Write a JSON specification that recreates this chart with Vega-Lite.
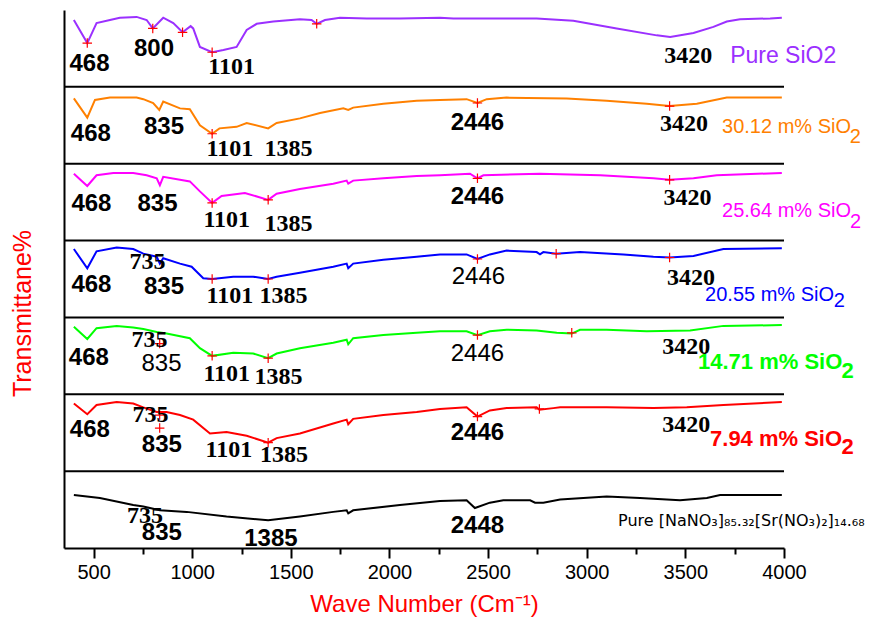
{
  "$schema": "https://vega.github.io/schema/vega-lite/v6.json",
  "width": 720,
  "height": 538,
  "autosize": {"type": "none"},
  "padding": {"left": 64, "top": 10, "right": 95, "bottom": 82},
  "background": "white",
  "config": {
    "view": {"stroke": null},
    "axisY": {"labels": false, "ticks": false, "grid": false, "domainColor": "black", "domainWidth": 2, "titleColor": "#ff0000", "titleFont": "Liberation Sans", "titleFontSize": 25, "titleFontWeight": "normal", "titleX": -42, "titleY": 303, "titleAngle": 270, "titleAlign": "center", "titleBaseline": "middle"},
    "axisX": {"grid": false, "domainColor": "black", "domainWidth": 2, "tickColor": "black", "tickWidth": 2, "labelFont": "Liberation Sans", "labelFontSize": 20, "labelColor": "black", "titleColor": "#ff0000", "titleFont": "Liberation Sans", "titleFontSize": 24, "titleFontWeight": "normal"}
  },
  "resolve": {"axis": {"x": "independent"}},
  "datasets": {
    "spectra": [
      {"s":"Pure SiO2","wn":400,"v":687},{"s":"Pure SiO2","wn":468,"v":657},{"s":"Pure SiO2","wn":515,"v":683},{"s":"Pure SiO2","wn":583,"v":687},{"s":"Pure SiO2","wn":633,"v":690},{"s":"Pure SiO2","wn":718,"v":691},{"s":"Pure SiO2","wn":769,"v":687},{"s":"Pure SiO2","wn":800,"v":676},{"s":"Pure SiO2","wn":853,"v":690},{"s":"Pure SiO2","wn":904,"v":683},{"s":"Pure SiO2","wn":951,"v":671},{"s":"Pure SiO2","wn":992,"v":679},{"s":"Pure SiO2","wn":1005,"v":676},{"s":"Pure SiO2","wn":1039,"v":652},{"s":"Pure SiO2","wn":1101,"v":645},{"s":"Pure SiO2","wn":1158,"v":648},{"s":"Pure SiO2","wn":1225,"v":652},{"s":"Pure SiO2","wn":1276,"v":674},{"s":"Pure SiO2","wn":1327,"v":682},{"s":"Pure SiO2","wn":1411,"v":685},{"s":"Pure SiO2","wn":1546,"v":688},{"s":"Pure SiO2","wn":1605,"v":687},{"s":"Pure SiO2","wn":1631,"v":682},{"s":"Pure SiO2","wn":1673,"v":687},{"s":"Pure SiO2","wn":1749,"v":690},{"s":"Pure SiO2","wn":1885,"v":689},{"s":"Pure SiO2","wn":2053,"v":689},{"s":"Pure SiO2","wn":2256,"v":690},{"s":"Pure SiO2","wn":2324,"v":689},{"s":"Pure SiO2","wn":2746,"v":689},{"s":"Pure SiO2","wn":2932,"v":686},{"s":"Pure SiO2","wn":3152,"v":676},{"s":"Pure SiO2","wn":3355,"v":667},{"s":"Pure SiO2","wn":3423,"v":665},{"s":"Pure SiO2","wn":3541,"v":670},{"s":"Pure SiO2","wn":3642,"v":678},{"s":"Pure SiO2","wn":3710,"v":685},{"s":"Pure SiO2","wn":3777,"v":688},{"s":"Pure SiO2","wn":3930,"v":689},{"s":"Pure SiO2","wn":3989,"v":690},
      {"s":"30.12","wn":400,"v":585},{"s":"30.12","wn":468,"v":560},{"s":"30.12","wn":507,"v":583},{"s":"30.12","wn":583,"v":586},{"s":"30.12","wn":718,"v":586},{"s":"30.12","wn":752,"v":584},{"s":"30.12","wn":802,"v":579},{"s":"30.12","wn":833,"v":570},{"s":"30.12","wn":853,"v":581},{"s":"30.12","wn":938,"v":572},{"s":"30.12","wn":988,"v":571},{"s":"30.12","wn":1039,"v":550},{"s":"30.12","wn":1101,"v":539},{"s":"30.12","wn":1138,"v":546},{"s":"30.12","wn":1225,"v":548},{"s":"30.12","wn":1276,"v":553},{"s":"30.12","wn":1385,"v":546},{"s":"30.12","wn":1428,"v":553},{"s":"30.12","wn":1546,"v":559},{"s":"30.12","wn":1648,"v":566},{"s":"30.12","wn":1766,"v":572},{"s":"30.12","wn":1791,"v":570},{"s":"30.12","wn":1816,"v":573},{"s":"30.12","wn":1969,"v":578},{"s":"30.12","wn":2138,"v":582},{"s":"30.12","wn":2256,"v":583},{"s":"30.12","wn":2391,"v":584},{"s":"30.12","wn":2446,"v":579},{"s":"30.12","wn":2493,"v":584},{"s":"30.12","wn":2594,"v":586},{"s":"30.12","wn":2898,"v":585},{"s":"30.12","wn":3101,"v":582},{"s":"30.12","wn":3304,"v":578},{"s":"30.12","wn":3420,"v":575},{"s":"30.12","wn":3558,"v":578},{"s":"30.12","wn":3710,"v":586},{"s":"30.12","wn":3989,"v":586},
      {"s":"25.64","wn":400,"v":487},{"s":"25.64","wn":468,"v":471},{"s":"25.64","wn":515,"v":485},{"s":"25.64","wn":600,"v":488},{"s":"25.64","wn":701,"v":488},{"s":"25.64","wn":769,"v":485},{"s":"25.64","wn":820,"v":481},{"s":"25.64","wn":836,"v":472},{"s":"25.64","wn":853,"v":483},{"s":"25.64","wn":988,"v":477},{"s":"25.64","wn":1039,"v":464},{"s":"25.64","wn":1101,"v":449},{"s":"25.64","wn":1149,"v":458},{"s":"25.64","wn":1267,"v":462},{"s":"25.64","wn":1385,"v":453},{"s":"25.64","wn":1428,"v":461},{"s":"25.64","wn":1546,"v":467},{"s":"25.64","wn":1715,"v":474},{"s":"25.64","wn":1783,"v":478},{"s":"25.64","wn":1791,"v":474},{"s":"25.64","wn":1816,"v":478},{"s":"25.64","wn":1969,"v":481},{"s":"25.64","wn":2138,"v":484},{"s":"25.64","wn":2256,"v":485},{"s":"25.64","wn":2408,"v":487},{"s":"25.64","wn":2446,"v":481},{"s":"25.64","wn":2476,"v":485},{"s":"25.64","wn":2763,"v":487},{"s":"25.64","wn":3068,"v":485},{"s":"25.64","wn":3338,"v":481},{"s":"25.64","wn":3420,"v":479},{"s":"25.64","wn":3541,"v":481},{"s":"25.64","wn":3659,"v":485},{"s":"25.64","wn":3989,"v":488},
      {"s":"20.55","wn":400,"v":389},{"s":"20.55","wn":468,"v":364},{"s":"20.55","wn":515,"v":386},{"s":"20.55","wn":617,"v":391},{"s":"20.55","wn":701,"v":389},{"s":"20.55","wn":752,"v":383},{"s":"20.55","wn":820,"v":379},{"s":"20.55","wn":836,"v":370},{"s":"20.55","wn":853,"v":377},{"s":"20.55","wn":938,"v":370},{"s":"20.55","wn":997,"v":366},{"s":"20.55","wn":1056,"v":351},{"s":"20.55","wn":1101,"v":350},{"s":"20.55","wn":1208,"v":353},{"s":"20.55","wn":1309,"v":353},{"s":"20.55","wn":1385,"v":350},{"s":"20.55","wn":1428,"v":353},{"s":"20.55","wn":1546,"v":358},{"s":"20.55","wn":1715,"v":366},{"s":"20.55","wn":1783,"v":370},{"s":"20.55","wn":1791,"v":364},{"s":"20.55","wn":1816,"v":370},{"s":"20.55","wn":1969,"v":375},{"s":"20.55","wn":2138,"v":379},{"s":"20.55","wn":2256,"v":382},{"s":"20.55","wn":2391,"v":382},{"s":"20.55","wn":2446,"v":376},{"s":"20.55","wn":2509,"v":382},{"s":"20.55","wn":2594,"v":387},{"s":"20.55","wn":2746,"v":385},{"s":"20.55","wn":2763,"v":382},{"s":"20.55","wn":2780,"v":385},{"s":"20.55","wn":2845,"v":383},{"s":"20.55","wn":2966,"v":385},{"s":"20.55","wn":3186,"v":382},{"s":"20.55","wn":3338,"v":379},{"s":"20.55","wn":3420,"v":378},{"s":"20.55","wn":3541,"v":380},{"s":"20.55","wn":3693,"v":389},{"s":"20.55","wn":3989,"v":390},
      {"s":"14.71","wn":400,"v":288},{"s":"14.71","wn":468,"v":272},{"s":"14.71","wn":515,"v":286},{"s":"14.71","wn":617,"v":289},{"s":"14.71","wn":701,"v":287},{"s":"14.71","wn":752,"v":285},{"s":"14.71","wn":820,"v":281},{"s":"14.71","wn":870,"v":279},{"s":"14.71","wn":988,"v":273},{"s":"14.71","wn":1039,"v":260},{"s":"14.71","wn":1101,"v":250},{"s":"14.71","wn":1208,"v":254},{"s":"14.71","wn":1309,"v":253},{"s":"14.71","wn":1385,"v":247},{"s":"14.71","wn":1428,"v":253},{"s":"14.71","wn":1546,"v":260},{"s":"14.71","wn":1715,"v":267},{"s":"14.71","wn":1783,"v":271},{"s":"14.71","wn":1791,"v":265},{"s":"14.71","wn":1816,"v":273},{"s":"14.71","wn":1969,"v":277},{"s":"14.71","wn":2138,"v":280},{"s":"14.71","wn":2256,"v":282},{"s":"14.71","wn":2391,"v":282},{"s":"14.71","wn":2446,"v":277},{"s":"14.71","wn":2509,"v":282},{"s":"14.71","wn":2594,"v":284},{"s":"14.71","wn":2746,"v":283},{"s":"14.71","wn":2848,"v":280},{"s":"14.71","wn":2924,"v":279},{"s":"14.71","wn":2966,"v":284},{"s":"14.71","wn":3101,"v":284},{"s":"14.71","wn":3304,"v":282},{"s":"14.71","wn":3524,"v":283},{"s":"14.71","wn":3693,"v":289},{"s":"14.71","wn":3989,"v":290},
      {"s":"7.94","wn":400,"v":188},{"s":"7.94","wn":468,"v":174},{"s":"7.94","wn":515,"v":186},{"s":"7.94","wn":617,"v":190},{"s":"7.94","wn":701,"v":188},{"s":"7.94","wn":752,"v":183},{"s":"7.94","wn":820,"v":177},{"s":"7.94","wn":870,"v":177},{"s":"7.94","wn":938,"v":173},{"s":"7.94","wn":1005,"v":167},{"s":"7.94","wn":1090,"v":149},{"s":"7.94","wn":1174,"v":151},{"s":"7.94","wn":1276,"v":146},{"s":"7.94","wn":1385,"v":137},{"s":"7.94","wn":1428,"v":143},{"s":"7.94","wn":1546,"v":149},{"s":"7.94","wn":1715,"v":162},{"s":"7.94","wn":1783,"v":167},{"s":"7.94","wn":1791,"v":161},{"s":"7.94","wn":1816,"v":168},{"s":"7.94","wn":1969,"v":173},{"s":"7.94","wn":2138,"v":177},{"s":"7.94","wn":2256,"v":181},{"s":"7.94","wn":2391,"v":183},{"s":"7.94","wn":2446,"v":171},{"s":"7.94","wn":2509,"v":179},{"s":"7.94","wn":2594,"v":182},{"s":"7.94","wn":2746,"v":183},{"s":"7.94","wn":2760,"v":180},{"s":"7.94","wn":2831,"v":182},{"s":"7.94","wn":2865,"v":183},{"s":"7.94","wn":3101,"v":183},{"s":"7.94","wn":3338,"v":182},{"s":"7.94","wn":3507,"v":183},{"s":"7.94","wn":3693,"v":186},{"s":"7.94","wn":3989,"v":190},
      {"s":"Salt","wn":400,"v":69},{"s":"Salt","wn":532,"v":65},{"s":"Salt","wn":701,"v":56},{"s":"Salt","wn":752,"v":54},{"s":"Salt","wn":836,"v":49},{"s":"Salt","wn":972,"v":47},{"s":"Salt","wn":1174,"v":41},{"s":"Salt","wn":1385,"v":36},{"s":"Salt","wn":1546,"v":41},{"s":"Salt","wn":1715,"v":47},{"s":"Salt","wn":1783,"v":49},{"s":"Salt","wn":1791,"v":45},{"s":"Salt","wn":1816,"v":49},{"s":"Salt","wn":2053,"v":56},{"s":"Salt","wn":2256,"v":61},{"s":"Salt","wn":2391,"v":62},{"s":"Salt","wn":2433,"v":52},{"s":"Salt","wn":2509,"v":59},{"s":"Salt","wn":2577,"v":62},{"s":"Salt","wn":2713,"v":62},{"s":"Salt","wn":2738,"v":59},{"s":"Salt","wn":2780,"v":59},{"s":"Salt","wn":2865,"v":63},{"s":"Salt","wn":3101,"v":67},{"s":"Salt","wn":3270,"v":65},{"s":"Salt","wn":3473,"v":62},{"s":"Salt","wn":3609,"v":65},{"s":"Salt","wn":3676,"v":69},{"s":"Salt","wn":3989,"v":69}
    ],
    "separators": [{"v":100},{"v":200},{"v":300},{"v":400},{"v":500},{"v":600}],
    "crosses": [
      {"wn":468,"v":657},{"wn":800,"v":676},{"wn":951,"v":671},{"wn":1101,"v":645},{"wn":1631,"v":682},
      {"wn":1101,"v":539},{"wn":2446,"v":579},{"wn":3420,"v":575},
      {"wn":1101,"v":449},{"wn":1385,"v":453},{"wn":2446,"v":481},{"wn":3420,"v":479},
      {"wn":1101,"v":350},{"wn":1385,"v":350},{"wn":2446,"v":376},{"wn":2845,"v":383},{"wn":3420,"v":378},
      {"wn":835,"v":266},{"wn":1101,"v":250},{"wn":1385,"v":247},{"wn":2446,"v":277},{"wn":2924,"v":280},
      {"wn":835,"v":173},{"wn":835,"v":156},{"wn":1385,"v":137},{"wn":2446,"v":171},{"wn":2760,"v":181}
    ],
    "peaksBoldSans": [
      {"t":"468","wn":479,"v":630},{"t":"800","wn":806,"v":649},
      {"t":"468","wn":486,"v":539},{"t":"835","wn":857,"v":548},{"t":"2446","wn":2446,"v":553},
      {"t":"468","wn":489,"v":448},{"t":"835","wn":824,"v":448},{"t":"2446","wn":2446,"v":457},
      {"t":"468","wn":489,"v":342},{"t":"835","wn":857,"v":340},
      {"t":"468","wn":476,"v":247},
      {"t":"468","wn":481,"v":154},{"t":"835","wn":846,"v":134},{"t":"2446","wn":2446,"v":149},
      {"t":"835","wn":846,"v":19},{"t":"1385","wn":1399,"v":12},{"t":"2448","wn":2446,"v":28}
    ],
    "peaksSans": [
      {"t":"2446","wn":2451,"v":353},
      {"t":"835","wn":844,"v":240},{"t":"2446","wn":2446,"v":253}
    ],
    "peaksSerif": [
      {"t":"1101","wn":1200,"v":626},{"t":"3420","wn":3514,"v":640},
      {"t":"1101","wn":1191,"v":519},{"t":"1385","wn":1488,"v":519},{"t":"3420","wn":3493,"v":552},
      {"t":"1101","wn":1175,"v":427},{"t":"1385","wn":1488,"v":422},{"t":"3420","wn":3511,"v":455},
      {"t":"735","wn":773,"v":372},{"t":"1101","wn":1191,"v":328},{"t":"1385","wn":1463,"v":328},{"t":"3420","wn":3529,"v":351},
      {"t":"735","wn":783,"v":271},{"t":"1101","wn":1175,"v":227},{"t":"1385","wn":1437,"v":223},{"t":"3420","wn":3504,"v":262},
      {"t":"735","wn":788,"v":173},{"t":"1101","wn":1186,"v":128},{"t":"1385","wn":1465,"v":121},{"t":"3420","wn":3504,"v":160},
      {"t":"735","wn":760,"v":42}
    ],
    "names": [
      {"s":"Pure SiO2","t":"Pure SiO2","wn":3727,"v":640},
      {"s":"30.12","t":"30.12 m% SiO","wn":3686,"v":548},{"s":"30.12","t":"2","wn":4333,"v":535},
      {"s":"25.64","t":"25.64 m% SiO","wn":3686,"v":438},{"s":"25.64","t":"2","wn":4335,"v":424},
      {"s":"20.55","t":"20.55 m%  SiO","wn":3600,"v":329},{"s":"20.55","t":"2","wn":4252,"v":321},
      {"s":"14.71","t":"14.71 m% SiO","wn":3564,"v":242},{"s":"14.71","t":"2","wn":4292,"v":230},
      {"s":"7.94","t":"7.94 m% SiO","wn":3625,"v":142},{"s":"7.94","t":"2","wn":4292,"v":131},
      {"s":"Salt","t":"Pure [NaNO₃]₈₅.₃₂[Sr(NO₃)₂]₁₄.₆₈","wn":3159,"v":35}
    ]
  },
  "layer": [
    {
      "data": {"name": "separators"},
      "mark": {"type": "rule", "color": "black", "strokeWidth": 2},
      "encoding": {
        "y": {"field": "v", "type": "quantitative", "title": "Transmittane%", "scale": {"domain": [0, 700], "nice": false}}
      }
    },
    {
      "data": {"name": "spectra"},
      "mark": {"type": "line", "strokeWidth": 2, "interpolate": "linear"},
      "encoding": {
        "x": {"field": "wn", "type": "quantitative", "title": "Wave Number (Cm⁻¹)", "scale": {"domain": [350, 4000], "nice": false, "zero": false},
              "axis": {"orient": "bottom", "values": [500,1000,1500,2000,2500,3000,3500,4000], "format": "d", "tickSize": 10, "labelPadding": 4, "titlePadding": 10, "labelFlush": false}},
        "y": {"field": "v", "type": "quantitative", "title": "Transmittane%", "scale": {"domain": [0, 700], "nice": false}},
        "color": {"field": "s", "type": "nominal", "legend": null,
                  "scale": {"domain": ["Pure SiO2","30.12","25.64","20.55","14.71","7.94","Salt"], "range": ["#9b30ff","#ff8000","#ff00ff","#0000ff","#00ff00","#ff0000","#000000"]}},
        "detail": {"field": "s"}
      }
    },
    {
      "data": {"name": "crosses"},
      "mark": {"type": "point", "shape": "M -1 0 L 1 0 M 0 -1 L 0 1", "filled": false, "color": "#ff0000", "strokeWidth": 1.2, "size": 90, "opacity": 1},
      "encoding": {
        "x": {"field": "wn", "type": "quantitative", "title": null, "scale": {"domain": [350, 4000], "nice": false, "zero": false},
              "axis": {"orient": "bottom", "values": [750,1250,1750,2250,2750,3250,3750], "tickSize": 6, "labels": false, "domain": false, "title": null}},
        "y": {"field": "v", "type": "quantitative", "title": "Transmittane%", "scale": {"domain": [0, 700], "nice": false}}
      }
    },
    {
      "data": {"name": "peaksBoldSans"},
      "mark": {"type": "text", "font": "Liberation Sans", "fontWeight": "bold", "fontSize": 24, "align": "center", "baseline": "middle", "color": "black"},
      "encoding": {
        "x": {"field": "wn", "type": "quantitative", "axis": null, "scale": {"domain": [350, 4000], "nice": false, "zero": false}},
        "y": {"field": "v", "type": "quantitative", "title": "Transmittane%", "scale": {"domain": [0, 700], "nice": false}},
        "text": {"field": "t"}
      }
    },
    {
      "data": {"name": "peaksSans"},
      "mark": {"type": "text", "font": "Liberation Sans", "fontWeight": "normal", "fontSize": 24, "align": "center", "baseline": "middle", "color": "black"},
      "encoding": {
        "x": {"field": "wn", "type": "quantitative", "axis": null, "scale": {"domain": [350, 4000], "nice": false, "zero": false}},
        "y": {"field": "v", "type": "quantitative", "title": "Transmittane%", "scale": {"domain": [0, 700], "nice": false}},
        "text": {"field": "t"}
      }
    },
    {
      "data": {"name": "peaksSerif"},
      "mark": {"type": "text", "font": "Liberation Serif", "fontWeight": "bold", "fontSize": 24, "align": "center", "baseline": "middle", "color": "black"},
      "encoding": {
        "x": {"field": "wn", "type": "quantitative", "axis": null, "scale": {"domain": [350, 4000], "nice": false, "zero": false}},
        "y": {"field": "v", "type": "quantitative", "title": "Transmittane%", "scale": {"domain": [0, 700], "nice": false}},
        "text": {"field": "t"}
      }
    },
    {
      "data": {"name": "names"},
      "transform": [{"filter": {"field": "s", "equal": "Pure SiO2"}}],
      "mark": {"type": "text", "font": "Liberation Sans", "fontSize": 23, "align": "left", "baseline": "middle"},
      "encoding": {
        "x": {"field": "wn", "type": "quantitative", "axis": null, "scale": {"domain": [350, 4000], "nice": false, "zero": false}},
        "y": {"field": "v", "type": "quantitative", "title": "Transmittane%", "scale": {"domain": [0, 700], "nice": false}},
        "text": {"field": "t"},
        "color": {"field": "s", "type": "nominal", "legend": null}
      }
    },
    {
      "data": {"name": "names"},
      "transform": [{"filter": {"field": "s", "oneOf": ["30.12", "25.64", "20.55"]}}],
      "mark": {"type": "text", "font": "Liberation Sans", "fontSize": 20, "align": "left", "baseline": "middle"},
      "encoding": {
        "x": {"field": "wn", "type": "quantitative", "axis": null, "scale": {"domain": [350, 4000], "nice": false, "zero": false}},
        "y": {"field": "v", "type": "quantitative", "title": "Transmittane%", "scale": {"domain": [0, 700], "nice": false}},
        "text": {"field": "t"},
        "color": {"field": "s", "type": "nominal", "legend": null}
      }
    },
    {
      "data": {"name": "names"},
      "transform": [{"filter": {"field": "s", "oneOf": ["14.71", "7.94"]}}],
      "mark": {"type": "text", "font": "Liberation Sans", "fontWeight": "bold", "fontSize": 22, "align": "left", "baseline": "middle"},
      "encoding": {
        "x": {"field": "wn", "type": "quantitative", "axis": null, "scale": {"domain": [350, 4000], "nice": false, "zero": false}},
        "y": {"field": "v", "type": "quantitative", "title": "Transmittane%", "scale": {"domain": [0, 700], "nice": false}},
        "text": {"field": "t"},
        "color": {"field": "s", "type": "nominal", "legend": null}
      }
    },
    {
      "data": {"name": "names"},
      "transform": [{"filter": {"field": "s", "equal": "Salt"}}],
      "mark": {"type": "text", "font": "DejaVu Sans", "fontSize": 16, "align": "left", "baseline": "middle"},
      "encoding": {
        "x": {"field": "wn", "type": "quantitative", "axis": null, "scale": {"domain": [350, 4000], "nice": false, "zero": false}},
        "y": {"field": "v", "type": "quantitative", "title": "Transmittane%", "scale": {"domain": [0, 700], "nice": false}},
        "text": {"field": "t"},
        "color": {"field": "s", "type": "nominal", "legend": null}
      }
    }
  ]
}
